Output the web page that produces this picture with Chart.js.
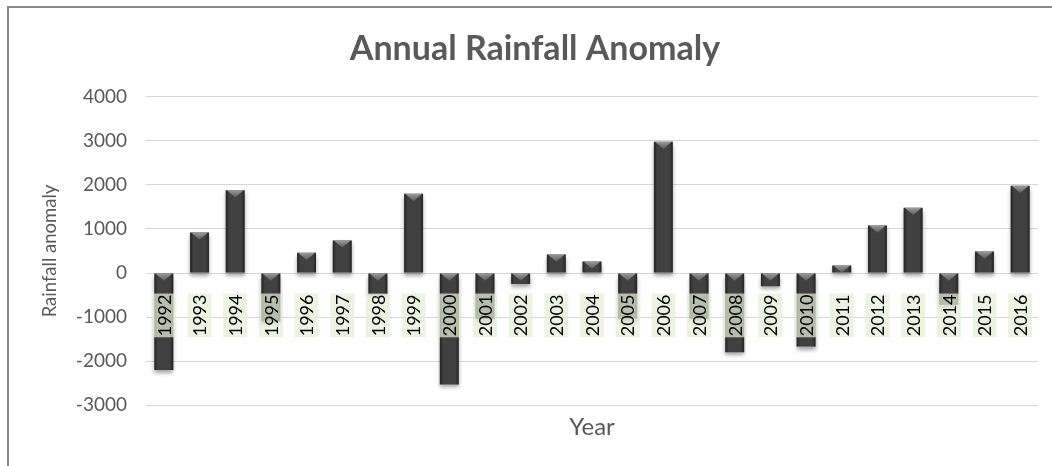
<!DOCTYPE html>
<html>
<head>
<meta charset="utf-8">
<title>Annual Rainfall Anomaly</title>
<script src="https://cdn.jsdelivr.net/npm/chart.js@4/dist/chart.umd.min.js"></script>
<style>
  html, body { margin: 0; padding: 0; background: #ffffff; overflow: hidden; }
  #frame {
    position: absolute; left: 7px; top: 6px;
    width: 1045px; height: 460px;
    border-left: 2px solid #8a8a8a; border-top: 2px solid #8a8a8a;
    box-sizing: border-box;
  }
  #chart { display: block; }
</style>
</head>
<body>
<div id="frame"><canvas id="chart" width="1043" height="458"></canvas></div>
<script>
// Years on the category axis
const years = ['1992','1993','1994','1995','1996','1997','1998','1999','2000','2001',
               '2002','2003','2004','2005','2006','2007','2008','2009','2010','2011',
               '2012','2013','2014','2015','2016'];

// Rainfall anomaly per year
const anomaly = [-2200, 920, 1880, -1100, 460, 740, -480, 1800, -2530, -1040,
                 -250, 420, 260, -1040, 2980, -1040, -1800, -300, -1670, 170,
                 1080, 1480, -720, 490, 1980];

// Value axis ticks
const yTicks = [-3000, -2000, -1000, 0, 1000, 2000, 3000, 4000];

const textGrey = '#595959';
const fontFamily = 'Lato, "Open Sans", "DejaVu Sans", sans-serif';

// Gives each bar a soft drop shadow, darker side edges and a bevelled top
const barShading = {
  id: 'barShading',
  beforeDatasetDraw(chart) {
    const ctx = chart.ctx;
    ctx.save();
    ctx.shadowColor = 'rgba(0,0,0,0.35)';
    ctx.shadowBlur = 4;
    ctx.shadowOffsetY = 3;
  },
  afterDatasetDraw(chart, args) {
    const ctx = chart.ctx;
    ctx.restore();
    ctx.save();
    args.meta.data.forEach(el => {
      const p = el.getProps(['x', 'y', 'base', 'width'], true);
      const top = Math.min(p.y, p.base);
      const bottom = Math.max(p.y, p.base);
      const left = p.x - p.width / 2;
      const w = p.width;
      const h = bottom - top;
      if (h <= 0) return;
      const side = ctx.createLinearGradient(left, 0, left + w, 0);
      side.addColorStop(0, 'rgba(0,0,0,0.45)');
      side.addColorStop(0.18, 'rgba(0,0,0,0)');
      side.addColorStop(0.82, 'rgba(0,0,0,0)');
      side.addColorStop(1, 'rgba(0,0,0,0.45)');
      ctx.fillStyle = side;
      ctx.fillRect(left, top, w, h);
      const th = Math.min(w * 0.38, h);
      const bevel = ctx.createLinearGradient(0, top, 0, top + th);
      bevel.addColorStop(0, '#9a9a9a');
      bevel.addColorStop(1, '#5c5c5c');
      ctx.fillStyle = bevel;
      ctx.beginPath();
      ctx.moveTo(left + 1, top);
      ctx.lineTo(left + w - 1, top);
      ctx.lineTo(p.x, top + th);
      ctx.closePath();
      ctx.fill();
    });
    ctx.restore();
  }
};

// Year labels hang just below the zero line, on a pale green strip, over the bars
const yearLabels = {
  id: 'yearLabels',
  afterDatasetsDraw(chart) {
    const { ctx } = chart;
    const xs = chart.scales.x;
    const ys = chart.scales.y;
    const zero = ys.getPixelForValue(0);
    const gap = 20.5;
    ctx.save();
    ctx.font = '18px ' + fontFamily;
    xs.getLabels().forEach((lab, i) => {
      const cx = xs.getPixelForTick(i);
      const tw = ctx.measureText(lab).width;
      const top = zero + gap;
      ctx.fillStyle = 'rgba(228,238,214,0.72)';
      ctx.fillRect(cx - 12, top, 24, tw + 2);
      ctx.save();
      ctx.translate(cx, top + 1);
      ctx.rotate(-Math.PI / 2);
      ctx.textAlign = 'right';
      ctx.textBaseline = 'middle';
      ctx.fillStyle = '#000000';
      ctx.fillText(lab, 0, 1);
      ctx.restore();
    });
    ctx.restore();
  }
};

new Chart(document.getElementById('chart'), {
  type: 'bar',
  data: {
    labels: years,
    datasets: [{
      label: 'Rainfall anomaly',
      data: anomaly,
      backgroundColor: '#404040',
      borderWidth: 0,
      barPercentage: 0.53,
      categoryPercentage: 1.0
    }]
  },
  plugins: [barShading, yearLabels],
  options: {
    responsive: false,
    animation: false,
    layout: { padding: { left: 23, right: 14, top: 0, bottom: 0 } },
    plugins: {
      legend: { display: false },
      tooltip: { enabled: false },
      title: {
        display: true,
        text: 'Annual Rainfall Anomaly',
        color: textGrey,
        font: { family: fontFamily, size: 34, weight: 'bold' },
        padding: { top: 21, bottom: 27 }
      }
    },
    scales: {
      x: {
        type: 'category',
        position: 'bottom',
        offset: true,
        grid: { display: false, drawTicks: false },
        border: { display: false },
        ticks: { display: false },
        title: {
          display: true,
          text: 'Year',
          color: textGrey,
          font: { family: fontFamily, size: 24 },
          padding: { top: 8, bottom: 24 }
        }
      },
      y: {
        min: yTicks[0],
        max: yTicks[yTicks.length - 1],
        afterBuildTicks(scale) {
          scale.ticks = yTicks.map(v => ({ value: v }));
        },
        afterFit(scale) { scale.width = 114; },
        grid: { color: '#d6d6d6', lineWidth: 1, drawTicks: false },
        border: { display: false },
        ticks: {
          padding: 19,
          color: textGrey,
          font: { family: fontFamily, size: 19 },
          callback: v => String(v)
        },
        title: {
          display: true,
          text: 'Rainfall anomaly',
          color: textGrey,
          font: { family: fontFamily, size: 18.5 },
          padding: { top: 7, bottom: 0 }
        }
      }
    }
  }
});
</script>
</body>
</html>
